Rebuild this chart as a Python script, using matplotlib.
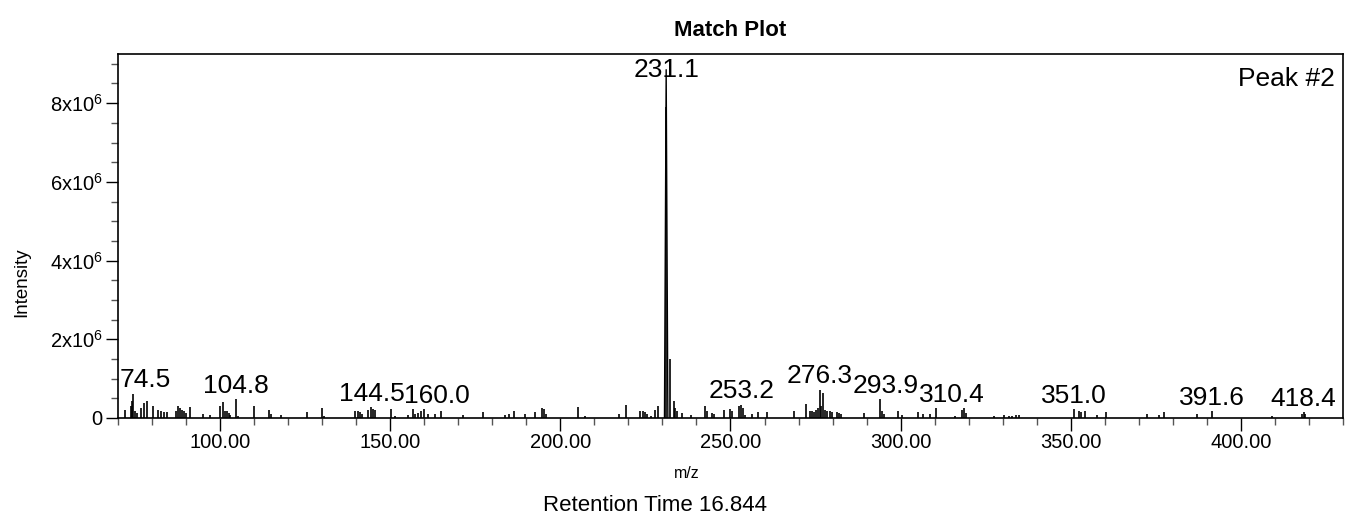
"""Match plot: stick mass spectrum with labelled peaks."""

import matplotlib
matplotlib.use("Agg")
import matplotlib.pyplot as plt
from matplotlib.ticker import FuncFormatter, MultipleLocator
import numpy as np

plt.rcParams["font.family"] = ["Liberation Sans", "DejaVu Sans"]

# centroid sticks (m/z, intensity in units of 1e6)
stick_mz = [
    72.1, 73.7, 74.2, 74.5, 75.1, 75.7, 76.8, 77.6, 78.4, 80.4, 81.9, 82.6,
    83.4, 84.4, 87.0, 87.6, 88.3, 88.8, 89.5, 90.0, 91.3, 95.0, 97.1, 100.0,
    101.0, 101.5, 102.0, 102.5, 103.0, 104.8, 105.3, 109.9, 114.4, 115.0,
    117.8, 125.5, 130.0, 130.5, 139.8, 140.4, 141.2, 141.7, 143.6, 144.5,
    145.0, 145.5, 150.2, 151.3, 155.2, 156.6, 157.3, 158.3, 159.0, 160.0,
    161.0, 163.2, 165.0, 171.3, 177.2, 183.6, 184.8, 186.4, 189.7, 192.6,
    194.6, 195.1, 195.8, 205.2, 207.3, 217.3, 219.4, 223.5, 224.3, 225.0,
    225.5, 226.5, 227.9, 228.6, 231.0, 232.1, 233.3, 233.8, 234.3, 235.8,
    238.4, 242.6, 243.1, 244.6, 245.1, 248.2, 250.0, 250.5, 252.4, 253.2,
    253.7, 254.2, 256.3, 258.0, 260.8, 268.6, 272.2, 273.5, 274.0, 274.5,
    275.2, 275.8, 276.3, 276.7, 277.2, 277.7, 278.4, 279.1, 279.9, 281.3,
    282.0, 282.6, 289.2, 293.9, 294.6, 295.1, 299.3, 300.5, 305.2, 306.6,
    308.5, 310.4, 316.1, 318.1, 318.6, 319.1, 327.4, 330.4, 331.8, 332.8,
    333.8, 334.8, 351.0, 352.4, 353.1, 354.2, 357.8, 360.3, 372.3, 376.0,
    377.4, 387.2, 391.6, 409.1, 417.8, 418.4, 418.9,
]
stick_int = [
    0.21, 0.30, 0.42, 0.62, 0.17, 0.13, 0.25, 0.38, 0.42, 0.31, 0.21, 0.17,
    0.14, 0.14, 0.17, 0.31, 0.25, 0.21, 0.17, 0.13, 0.27, 0.11, 0.08, 0.30,
    0.41, 0.17, 0.17, 0.13, 0.08, 0.47, 0.06, 0.30, 0.21, 0.11,
    0.08, 0.15, 0.25, 0.06, 0.19, 0.17, 0.14, 0.11, 0.21, 0.27,
    0.24, 0.21, 0.23, 0.06, 0.08, 0.23, 0.11, 0.13, 0.19, 0.23,
    0.11, 0.11, 0.19, 0.08, 0.15, 0.08, 0.11, 0.17, 0.11, 0.14,
    0.25, 0.24, 0.11, 0.28, 0.06, 0.11, 0.32, 0.19, 0.17, 0.14,
    0.11, 0.04, 0.21, 0.31, 7.90, 1.51, 0.42, 0.25, 0.17, 0.13,
    0.08, 0.30, 0.17, 0.13, 0.11, 0.21, 0.23, 0.19, 0.30, 0.34,
    0.25, 0.08, 0.11, 0.14, 0.15, 0.17, 0.36, 0.19, 0.17, 0.14,
    0.21, 0.25, 0.72, 0.30, 0.64, 0.21, 0.17, 0.19, 0.14, 0.14,
    0.13, 0.11, 0.13, 0.47, 0.17, 0.11, 0.17, 0.08, 0.15, 0.11,
    0.11, 0.25, 0.04, 0.21, 0.25, 0.13, 0.06, 0.08, 0.04, 0.06,
    0.08, 0.08, 0.22, 0.18, 0.14, 0.18, 0.07, 0.15, 0.11, 0.07,
    0.15, 0.09, 0.18, 0.05, 0.09, 0.15, 0.09,
]

# base peak drawn as a narrow profile
apex_mz = [230.6, 231.1, 231.6]
apex_int = [0.0, 8.85, 0.0]

# peaks carrying an m/z label
label_mz = [74.5, 104.8, 144.5, 160.0, 231.1, 253.2, 276.3, 293.9, 310.4,
            351.0, 391.6, 418.4]

y_ticks = [0, 2, 4, 6, 8]
x_ticks = [100, 150, 200, 250, 300, 350, 400]

title = "Match Plot"
peak_name = "Peak #2"
retention_time = 16.844
X_RANGE = (70, 430)
Y_TOP = 9.25e6


def _peak_height(mz: float, all_mz: np.ndarray, all_int: np.ndarray) -> float:
    """Height of the tallest mark within 0.15 of the given m/z."""
    near = np.abs(all_mz - mz) < 0.15
    return float(all_int[near].max())


def _ytick(value: float, _pos) -> str:
    if value == 0:
        return "0"
    return rf"$\mathregular{{{value / 1e6:.0f}x10^{{6}}}}$"


def main() -> None:
    mz = np.asarray(stick_mz)
    inten = np.asarray(stick_int) * 1e6
    prof_mz = np.asarray(apex_mz)
    prof_int = np.asarray(apex_int) * 1e6

    fig = plt.figure(figsize=(13.51, 5.17), dpi=100)
    ax = fig.add_axes([0.0873, 0.1915, 0.9068, 0.7041])

    ax.vlines(mz, 0, inten, color="black", linewidth=1.2)
    ax.plot(prof_mz, prof_int, color="black", linewidth=1.0)

    ax.set_xlim(*X_RANGE)
    ax.set_ylim(0, Y_TOP)

    ax.set_xticks(x_ticks)
    ax.xaxis.set_major_formatter(FuncFormatter(lambda v, _p: f"{v:.2f}"))
    ax.xaxis.set_minor_locator(MultipleLocator(10))
    ax.set_yticks([t * 1e6 for t in y_ticks])
    ax.yaxis.set_major_formatter(FuncFormatter(_ytick))
    ax.yaxis.set_minor_locator(MultipleLocator(0.5e6))

    ax.tick_params(axis="both", which="major", direction="out", length=9,
                   width=1.0, labelsize=14.5, pad=2)
    ax.tick_params(axis="both", which="minor", direction="out", length=5,
                   width=1.0, color="#555555")
    for spine in ax.spines.values():
        spine.set_linewidth(1.2)

    fig.text(0.016, 0.455, "Intensity", rotation=90, ha="center",
             va="center", fontsize=13.5)

    fig.text(0.5405, 0.941, title, ha="center", va="center",
             fontsize=16, fontweight="bold")
    fig.text(0.508, 0.085, "m/z", ha="center", va="center", fontsize=11.5)
    fig.text(0.485, 0.022, f"Retention Time {retention_time:.3f}",
             ha="center", va="center", fontsize=16)
    ax.text(0.993, 0.965, peak_name, transform=ax.transAxes,
            ha="right", va="top", fontsize=19)

    all_mz = np.concatenate([mz, prof_mz])
    all_int = np.concatenate([inten, prof_int])
    labels = []
    for lm in label_mz:
        h = _peak_height(lm, all_mz, all_int)
        txt = ax.annotate(f"{lm:.1f}", xy=(lm, h), xytext=(0, 4.5),
                          textcoords="offset points", ha="center",
                          va="baseline", fontsize=19, annotation_clip=False)
        labels.append(txt)

    # keep labels inside the frame and stop them running into each other
    fig.canvas.draw()
    renderer = fig.canvas.get_renderer()
    px_to_pt = 72.0 / fig.dpi
    prev_right = ax.bbox.x0 + 2
    for txt in labels:
        bb = txt.get_window_extent(renderer)
        dx = max(0.0, prev_right - bb.x0)
        dy = min(0.0, (ax.bbox.y1 - 4) - bb.y1)
        ox, oy = txt.xyann
        txt.xyann = (ox + dx * px_to_pt, oy + dy * px_to_pt)
        prev_right = bb.x1 + dx

    fig.savefig("out.png", dpi=100)
    plt.close(fig)


if __name__ == "__main__":
    main()
